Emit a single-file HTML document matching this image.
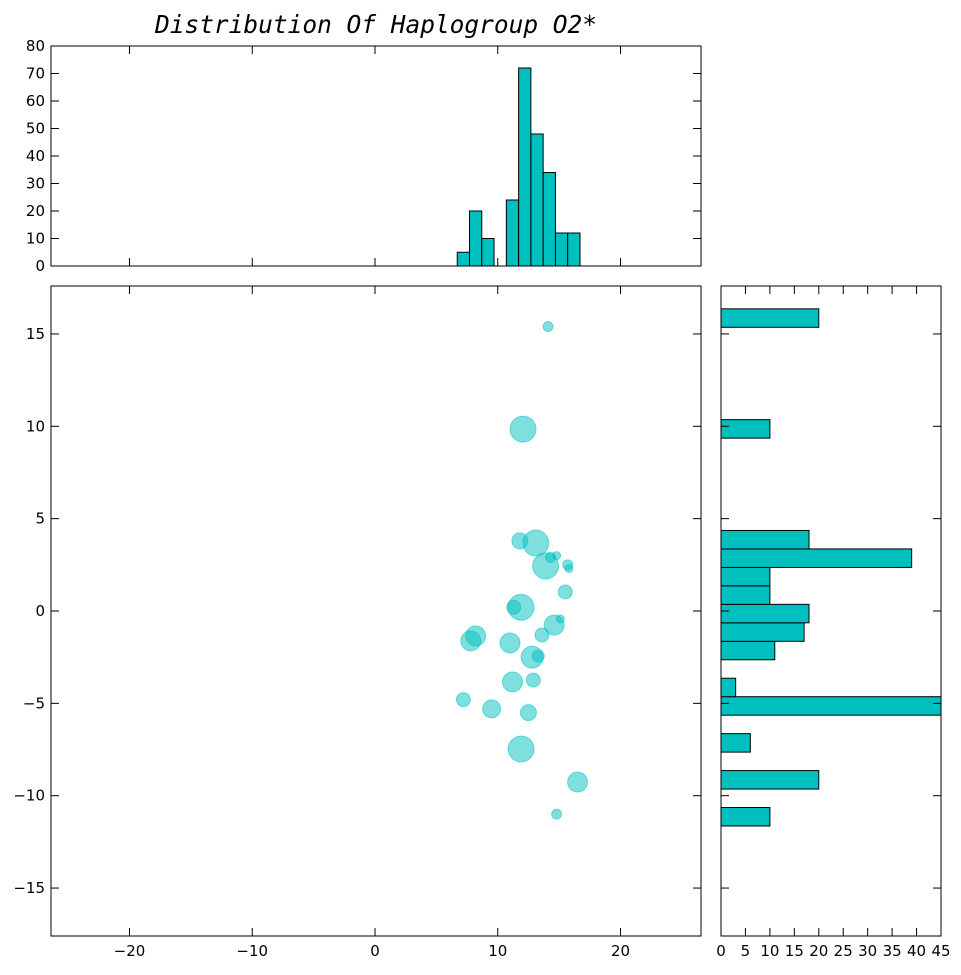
<!DOCTYPE html>
<html><head><meta charset="utf-8"><style>
body{margin:0;background:#fff;}
svg text{font-family:"DejaVu Sans","Liberation Sans",sans-serif;font-size:15px;fill:#000;}
</style></head><body>
<svg id="fig" width="961" height="970" xmlns="http://www.w3.org/2000/svg">
<text x="155" y="33" textLength="442" lengthAdjust="spacingAndGlyphs" style="font-family:'DejaVu Sans Mono','Liberation Mono',monospace;font-style:italic;font-size:25px">Distribution Of Haplogroup O2*</text>
<g id="g"></g>
</svg>
<script>
const ptX=[14.1,12.06,13.1,11.8,13.9,14.3,14.8,15.7,15.8,15.5,11.9,11.3,14.6,15.1,13.6,8.2,7.8,11.0,12.8,13.3,12.9,11.2,7.2,9.5,12.5,11.9,16.5,14.8];
const ptY=[15.4,9.85,3.68,3.8,2.44,2.9,3.0,2.5,2.3,1.03,0.2,0.2,-0.76,-0.43,-1.3,-1.35,-1.62,-1.73,-2.5,-2.44,-3.74,-3.84,-4.8,-5.3,-5.5,-7.47,-9.26,-11.0];
const ptR=[5,13,13,8,13,5,4,5,4,7,13,7,10,4,7,10,10,10,11,6,7,10,7,9,8,13,10,5];
const topBinStart=[6.7,7.7,8.7,9.7,10.7,11.7,12.7,13.7,14.7,15.7];
const topCounts=[5,20,10,0,24,72,48,34,12,12];
const rightBinStart=[-11.64,-10.64,-9.64,-8.64,-7.64,-6.64,-5.64,-4.64,-3.64,-2.64,-1.64,-0.64,0.36,1.36,2.36,3.36,4.36,5.36,6.36,7.36,8.36,9.36,10.36,11.36,12.36,13.36,14.36,15.36];
const rightCounts=[10,0,20,0,6,0,45,3,0,11,17,18,10,10,39,18,0,0,0,0,0,10,0,0,0,0,0,20];
const xTicks=[-20,-10,0,10,20];
const yTicks=[-15,-10,-5,0,5,10,15];
const topYTicks=[0,10,20,30,40,50,60,70,80];
const rightXTicks=[0,5,10,15,20,25,30,35,40,45];

const NS="http://www.w3.org/2000/svg",G=document.getElementById('g');
function el(t,a,p){const e=document.createElementNS(NS,t);for(const k in a)e.setAttribute(k,a[k]);(p||G).appendChild(e);return e;}
const sx=v=>375+v*12.275, sy=v=>611-v*18.47;
const ty=v=>266-v*2.75, rx=v=>721+v*4.889;
const fmt=v=>v<0?'\u2212'+(-v):''+v;

const sc=el('g',{});


for(let i=0;i<ptX.length;i++){const c=el('circle',{cx:sx(ptX[i]),cy:sy(ptY[i]),r:ptR[i],fill:'#00bfbf','fill-opacity':0.5,stroke:'#00bfbf','stroke-opacity':0.5},sc);

}
for(let i=0;i<topCounts.length;i++){if(!topCounts[i])continue;const r=el('rect',{x:sx(topBinStart[i]),y:ty(topCounts[i]),width:sx(topBinStart[i]+1)-sx(topBinStart[i]),height:ty(0)-ty(topCounts[i]),fill:'#00bfbf',stroke:'#000','stroke-width':1});

}
el('line',{x1:51,x2:701,y1:266,y2:266,stroke:'#000'});
for(let i=0;i<rightCounts.length;i++){if(!rightCounts[i])continue;const r=el('rect',{x:rx(0),y:sy(rightBinStart[i]+1),width:rx(rightCounts[i])-rx(0),height:sy(rightBinStart[i])-sy(rightBinStart[i]+1),fill:'#00bfbf',stroke:'#000','stroke-width':1});

}
[[51,286,650,650,'main-axes'],[51,46,650,220,'top-hist-axes'],[721,286,220,650,'right-hist-axes']].forEach(f=>{const r=el('rect',{x:f[0],y:f[1],width:f[2],height:f[3],fill:'none',stroke:'#000','stroke-width':1});

});
function tk(x1,y1,x2,y2){el('line',{x1,y1,x2,y2,stroke:'#000'});}
function lab(x,y,t,a){const e=el('text',{x,y,'text-anchor':a});e.textContent=t;

}
xTicks.forEach(v=>{const x=sx(v);tk(x,936,x,928);tk(x,286,x,294);tk(x,266,x,258);tk(x,46,x,54);lab(x,956,fmt(v),'middle');});
yTicks.forEach(v=>{const y=sy(v);tk(51,y,59,y);tk(701,y,693,y);tk(721,y,729,y);tk(941,y,933,y);lab(45,y+5,fmt(v),'end');});
topYTicks.forEach(v=>{const y=ty(v);tk(51,y,59,y);tk(701,y,693,y);lab(45,y+5,fmt(v),'end');});
rightXTicks.forEach(v=>{const x=rx(v);tk(x,936,x,928);tk(x,286,x,294);lab(x,956,fmt(v),'middle');});
</script>
</body></html>
